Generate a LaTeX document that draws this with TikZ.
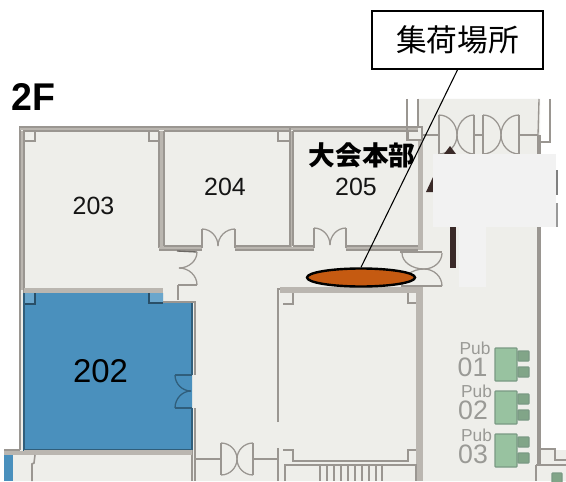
\documentclass[tikz,border=0pt]{standalone}
\usepackage{fontspec}
\setmainfont{Liberation Sans}
\newfontfamily\cjk{Noto Sans CJK JP}
\usetikzlibrary{calc,shapes.geometric}
\definecolor{floorc}{HTML}{EEEEEA}
\definecolor{bluec}{HTML}{4A90BD}
\definecolor{lblue}{HTML}{6AA6CC}
\definecolor{wallc}{HTML}{BAB6B0}
\definecolor{linec}{HTML}{9A9691}
\definecolor{whiteout}{HTML}{F2F2F2}
\definecolor{greenc}{HTML}{98C2A0}
\definecolor{greenl}{HTML}{7A9A84}
\definecolor{orangec}{HTML}{C55A11}
\definecolor{numc}{HTML}{151515}
\definecolor{pubc}{HTML}{9A9A96}
\definecolor{darkc}{HTML}{3A2A28}
\tikzset{
  wallthin/.style={draw=linec,line width=1pt},
  wallthick/.style={draw=wallc,line width=3.8pt},
  doorline/.style={draw=linec,line width=.95pt},
  bluedoor/.style={draw=black!35!bluec,line width=.95pt},
  roomnum/.style={text=numc,inner sep=0pt},
  publabel/.style={text=pubc,inner sep=0pt,font=\fontsize{13}{13}\selectfont},
  pubnum/.style={text=pubc,inner sep=0pt,font=\fontsize{20}{20}\selectfont},
  greenbig/.style={fill=greenc,draw=greenl,line width=.9pt,rounded corners=.6pt},
  greensmall/.style={fill=greenc!85!black,draw=greenl,line width=.9pt,rounded corners=.6pt},
}
\newcommand\swingH[5][doorline]{\draw[#1] (#2,#3) .. controls ($(#2,#3)!.55!(#4,#3)$) and ($(#4,#5)!.55!(#4,#3)$) .. (#4,#5);}
\newcommand\swingV[5][doorline]{\draw[#1] (#2,#3) .. controls ($(#2,#3)!.55!(#2,#5)$) and ($(#4,#5)!.55!(#2,#5)$) .. (#4,#5);}
\begin{document}
\begin{tikzpicture}[x=.75pt,y=-.75pt]
\useasboundingbox (0,0) rectangle (566,481);
\clip (0,0) rectangle (566,481);
\fill[white] (0,0) rectangle (566,481);
% floor
\fill[floorc] (20,127) -- (418,127) -- (418,99) -- (540,99) -- (540,450) -- (566,450) -- (566,481)
  -- (4,481) -- (4,452) -- (20,452) -- cycle;
% blue room 202
\fill[bluec] (24,293) -- (163,293) -- (163,303) -- (192,303) -- (192,450) -- (24,450) -- cycle;
\fill[bluec] (4,455) rectangle (13,481);
\fill[lblue] (24,293) rectangle (35,304);
\fill[lblue] (149,293) rectangle (163,303);
\draw[line width=.8pt,draw=black!45!bluec] (24,304) -- (35,304) -- (35,293);
\draw[line width=.8pt,draw=black!45!bluec] (149,293) -- (149,303) -- (163,303);
\draw[line width=.8pt,draw=black!35!bluec] (24,293) -- (24,450) -- (192,450) -- (192,408);
\draw[line width=.8pt,draw=black!35!bluec] (192,375) -- (192,303);
% outer walls, left side
\draw[wallthin] (20,450) -- (20,127) -- (418,127);
\draw[wallthin] (24,293) -- (24,131) -- (159,131);
\draw[wallthin] (164,131) -- (290,131);
\draw[wallthin] (293,131) -- (418,131);
\draw[wallc,line width=2pt] (20,129) -- (418,129);
\draw[wallc,line width=2pt] (22,131) -- (22,290);
% corners
\draw[wallthin,fill=floorc!90!white] (24,141) -- (35,141) -- (35,131);
\draw[wallthin] (149,131) -- (149,141) -- (160,141);
\draw[wallthin] (278,131) -- (278,141) -- (290,141);
\draw[wallthin] (408,131) -- (408,140) -- (418,140);
% room 204 / 205 dividing walls
\draw[wallthick] (161.5,131) -- (161.5,248);
\draw[wallthin] (159,131) -- (159,248);
\draw[wallthin] (164,131) -- (164,246);
\draw[wallc,line width=2pt] (291,131) -- (291,248);
\draw[wallthin] (290,127) -- (290,248);
\draw[wallthin] (293,131) -- (293,246);
% wall bottom 204,205
\draw[wallthin] (159,250) -- (202,250);
\draw[wallthin] (164,246) -- (202,246);
\draw[wallthin] (235,250) -- (314,250);
\draw[wallthin] (235,246) -- (290,246);
\draw[wallthin] (293,246) -- (314,246);
\draw[wallthin] (346,250) -- (418,250);
\draw[wallthin] (346,246) -- (418,246);
\draw[wallc,line width=2pt] (159,248) -- (202,248) (235,248) -- (314,248) (346,248) -- (420,248);
% door 204
\draw[doorline] (202,248) -- (202,229);
\draw[doorline] (235,248) -- (235,229);
\swingH{202}{229}{218}{246}
\swingH{235}{229}{218}{246}
% door 205
\draw[doorline] (314,248) -- (314,228);
\draw[doorline] (346,248) -- (346,228);
\swingH{314}{228}{330}{245}
\swingH{346}{228}{330}{245}
% door west of corridor
\draw[line width=1pt,draw=linec!70!black] (177,251) -- (197,252);
\draw[doorline] (178,285) -- (197,285);
\swingV{197}{252}{179}{268}
\swingV{197}{285}{179}{268}
\draw[wallthin] (178,285) -- (178,300);
\draw[wallthin] (163,302) -- (195,302) -- (195,375);
% 203 bottom wall
\draw[wallthick] (24,290.5) -- (163,290.5);
% blue door
\draw[bluedoor] (192,375) -- (175,375);
\draw[bluedoor] (192,408) -- (175,408);
\swingV[bluedoor]{175}{375}{191}{391}
\swingV[bluedoor]{175}{408}{191}{391}
% right wall of 202 and bottom
\draw[wallthin] (195,408) -- (195,481);
\draw[wallthin] (192,450) -- (192,481);
\draw[wallthick] (24,452.5) -- (192,452.5);
\draw[wallthin] (4,450) -- (20,450);
\draw[wallc,line width=3pt] (4,452.5) -- (24,452.5);
\draw[line width=1.2pt,draw=linec] (35,455) -- (34,463) -- (32,464) -- (32,481);
% bottom door
\draw[line width=1.6pt,draw=linec] (196,459) -- (221,459);
\draw[line width=1.6pt,draw=linec] (253,459) -- (278,459);
\draw[doorline] (221,443) -- (221,475);
\draw[doorline] (253,443) -- (253,475);
\swingH{221}{443}{237}{459}
\swingH{221}{475}{237}{459}
\swingH{253}{443}{237}{459}
\swingH{253}{475}{237}{459}
% inner room
\draw[wallthin] (278,422) -- (278,289) -- (283,289);
\draw[wallthin] (278,448) -- (278,481);
\draw[line width=4.4pt,draw=wallc] (280,290) -- (423,290);
\draw[line width=5.4pt,draw=wallc] (419.5,287) -- (419.5,481);
\draw[wallthin] (283,304) -- (293,304) -- (293,293);
\draw[wallthin] (408,293) -- (408,303) -- (416,303);
\draw[wallthin] (283,450) -- (293,450) -- (293,461) -- (408,461) -- (408,450) -- (416,450);
\draw[wallthin] (285,481) -- (285,465) -- (416,465) -- (416,481);
\foreach \sx in {320,327,334,341,348,355,362,369,376,382}{\draw[line width=.9pt,draw=linec] (\sx,465) -- (\sx,481);}
% wall 205 right
\draw[line width=4pt,draw=wallc] (420.5,140) -- (420.5,250);
% upper right block
\draw[wallthin] (407,99) -- (407,127);
\draw[wallthin] (418,99) -- (418,127);
\draw[wallthin] (407,127) rectangle (422,140);
\draw[line width=1.4pt,draw=linec] (422,135) -- (439,135);
\draw[line width=1.4pt,draw=linec] (474,135) -- (483,135);
\draw[line width=1.4pt,draw=linec] (519,135) -- (538,135);
\draw[wallthin] (539,99) -- (538,135);
\draw[wallthin] (550,99) -- (550,142) -- (541,142);
\draw[doorline] (439,115) -- (439,154);
\draw[doorline] (474,115) -- (474,154);
\draw[doorline] (483,115) -- (483,154);
\draw[doorline] (519,115) -- (519,154);
\swingH{439}{115}{457}{135}
\swingH{439}{154}{457}{135}
\swingH{474}{115}{457}{135}
\swingH{474}{154}{457}{135}
\swingH{483}{115}{501}{135}
\swingH{483}{154}{501}{135}
\swingH{519}{115}{501}{135}
\swingH{519}{154}{501}{135}
% door at east of the ellipse
\draw[doorline] (400,252) -- (442,252);
\draw[doorline] (401,286) -- (442,286);
\swingV{402}{253}{424}{269}
\swingV{442}{253}{424}{269}
\swingV{442}{286}{424}{269}
\swingV{402}{286}{424}{269}
% right long wall
\draw[line width=2.4pt,draw=linec] (539,135) -- (539,465);
\draw[wallthin] (541,449) -- (555,449) -- (555,460) -- (566,460);
\draw[wallthin] (536,465) -- (566,465);
\draw[wallthin] (536,465) -- (536,481);
% stairs marks
\fill[darkc] (426,192) -- (433,177) -- (433,192) -- cycle;
\fill[darkc] (444,154) -- (450,146) -- (456,154) -- cycle;
\fill[darkc] (450,227) rectangle (456,268);
\fill[gray] (555,170) rectangle (558,195);
\fill[gray!80] (555,203) rectangle (558,227);
% whiteout
\fill[whiteout] (433,154) rectangle (556,227);
\fill[whiteout] (459,227) rectangle (486,287);
% pub units
\foreach \t in {348,391,434}{
  \draw[greenbig] (495,\t) rectangle (517,\t+33);
  \draw[greensmall] (518,\t+3) rectangle (529,\t+13);
  \draw[greensmall] (518,\t+19) rectangle (529,\t+29);
}
\draw[greensmall] (552,473) rectangle (562,485);
% labels
\node[anchor=center,font=\bfseries\fontsize{29}{29}\selectfont,inner sep=0pt,xscale=.97] (floorlabel) at (33.5,97.5) {2F};
\node[roomnum,font=\fontsize{18.7}{18.7}\selectfont] (r203) at (93.5,206) {203};
\node[roomnum,font=\fontsize{18.7}{18.7}\selectfont] (r204) at (225,187) {204};
\node[roomnum,font=\fontsize{18.7}{18.7}\selectfont] (r205) at (356,187) {205};
\node[roomnum,text=black,font=\fontsize{24.7}{24.7}\selectfont] (r202) at (100.5,371) {202};
\node[publabel] (p1) at (475,348) {Pub};
\node[pubnum] (n1) at (472.5,367.5) {01};
\node[publabel] (p2) at (476.5,391) {Pub};
\node[pubnum] (n2) at (473,410) {02};
\node[publabel] (p3) at (476.5,435) {Pub};
\node[pubnum] (n3) at (473,454.5) {03};
\node[inner sep=0pt,font=\cjk\bfseries\fontsize{20}{20}\selectfont] (hq) at (362,155) {大会本部};
% callout
\node[draw=black,fill=white,line width=1.3pt,minimum width=128pt,minimum height=43.5pt,inner sep=0pt,anchor=center,font=\cjk\fontsize{23}{23}\selectfont] (callout) at (457.5,40) {集荷場所};
\node[ellipse,draw=black,fill=orangec,line width=1.8pt,minimum width=81pt,minimum height=13.5pt,inner sep=0pt] (spot) at (361,277.5) {};
\draw[black,line width=.8pt] (callout.south) -- (spot.north);
\end{tikzpicture}
\end{document}
